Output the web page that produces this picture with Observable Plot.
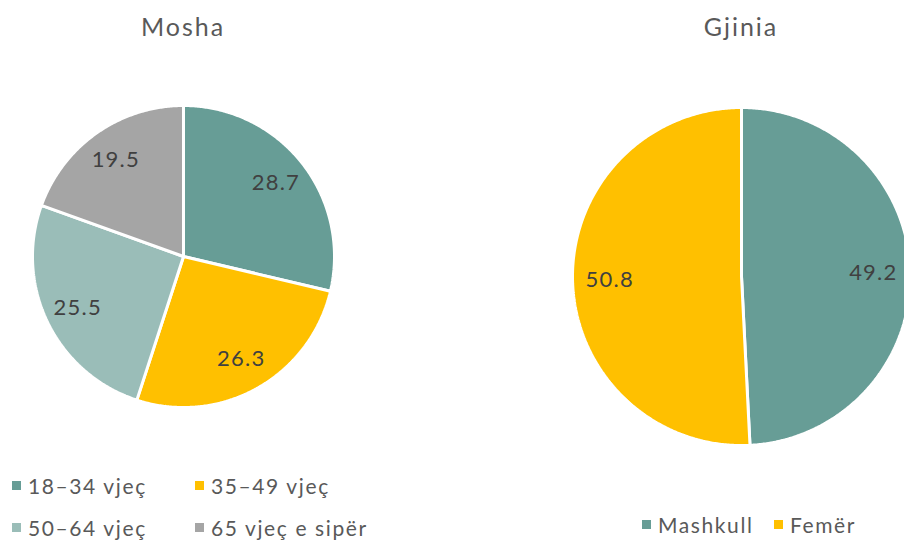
<!DOCTYPE html>
<html>
<head>
<meta charset="utf-8">
<script src="https://cdn.jsdelivr.net/npm/d3@7"></script>
<script src="https://cdn.jsdelivr.net/npm/@observablehq/plot@0.6"></script>
<style>
  html, body { margin: 0; padding: 0; background: #fff; overflow: hidden; }
  #root { position: relative; width: 904px; height: 543px; font-family: "Lato", "Noto Sans", sans-serif; color: #595959; }
  .title { position: absolute; font-size: 25px; letter-spacing: 2px; transform: translateX(-50%); white-space: nowrap; }
  .plot { position: absolute; }
  .plot text { letter-spacing: 1.2px; }
  .leg { position: absolute; font-size: 21px; letter-spacing: 1.6px; white-space: nowrap; display: flex; align-items: center; }
  .leg i { display: inline-block; width: 9px; height: 9px; margin-right: 7px; }
</style>
</head>
<body>
<div id="root"></div>
<script>
// ---- data ----
const ageCategories = ["18–34 vjeç", "35–49 vjeç", "50–64 vjeç", "65 vjeç e sipër"];
const ageValues = [28.7, 26.3, 25.5, 19.5];
const ageColors = ["#679D96", "#FFC000", "#9ABDB8", "#A5A5A5"];

const genderCategories = ["Mashkull", "Femër"];
const genderValues = [49.2, 50.8];
const genderColors = ["#679D96", "#FFC000"];

const titles = ["Mosha", "Gjinia"];

// ---- helpers ----
function pieData(cats, vals, R) {
  const total = d3.sum(vals);
  const pts = [], labels = [];
  let acc = 0;
  cats.forEach((c, i) => {
    const a0 = acc / total * 2 * Math.PI;
    acc += vals[i];
    const a1 = acc / total * 2 * Math.PI;
    pts.push({cat: c, x: 0, y: 0});
    const n = Math.max(2, Math.ceil((a1 - a0) / (Math.PI / 360)));
    for (let k = 0; k <= n; k++) {
      const a = a0 + (a1 - a0) * k / n;
      pts.push({cat: c, x: R * Math.sin(a), y: R * Math.cos(a)});
    }
    pts.push({cat: c, x: 0, y: 0});
    const am = (a0 + a1) / 2;
    labels.push({cat: c, value: vals[i], x: 0.78 * R * Math.sin(am), y: 0.78 * R * Math.cos(am)});
  });
  return {pts, labels};
}

function piePlot(cats, vals, colors, R, width, height, xdom, ydom) {
  const {pts, labels} = pieData(cats, vals, R);
  return Plot.plot({
    width, height,
    margin: 0,
    x: {axis: null, domain: xdom},
    y: {axis: null, domain: ydom},
    color: {domain: cats, range: colors},
    style: {background: "transparent", overflow: "hidden"},
    marks: [
      Plot.line(pts, {x: "x", y: "y", z: "cat", fill: "cat", stroke: "white", strokeWidth: 3, strokeLinejoin: "miter", curve: "linear"}),
      Plot.text(labels, {x: "x", y: "y", text: d => d.value.toFixed(1), fill: "#404040", fontSize: 22, fontFamily: "Lato, 'Noto Sans', sans-serif"})
    ]
  });
}

const root = document.getElementById("root");

function addTitle(text, cx, top) {
  const d = document.createElement("div");
  d.className = "title"; d.textContent = text;
  d.style.left = cx + "px"; d.style.top = top + "px";
  root.appendChild(d);
}
function addLegend(text, color, left, top) {
  const d = document.createElement("div");
  d.className = "leg";
  d.style.left = left + "px"; d.style.top = top + "px";
  const sw = document.createElement("i"); sw.style.background = color;
  d.appendChild(sw);
  d.appendChild(document.createTextNode(text));
  root.appendChild(d);
}

addTitle(titles[0], 183, 11);
addTitle(titles[1], 741, 11);

const p1 = piePlot(ageCategories, ageValues, ageColors, 151, 330, 330, [-165, 165], [-165, 165]);
p1.classList.add("plot"); p1.style.left = "18px"; p1.style.top = "91px";
root.appendChild(p1);

const p2 = piePlot(genderCategories, genderValues, genderColors, 169, 343, 360, [-180, 163], [-180, 180]);
p2.classList.add("plot"); p2.style.left = "561px"; p2.style.top = "96px";
root.appendChild(p2);

// legends
addLegend(ageCategories[0], ageColors[0], 12, 473);
addLegend(ageCategories[1], ageColors[1], 195, 473);
addLegend(ageCategories[2], ageColors[2], 12, 515);
addLegend(ageCategories[3], ageColors[3], 195, 515);
addLegend(genderCategories[0], genderColors[0], 642, 512);
addLegend(genderCategories[1], genderColors[1], 774, 512);
</script>
</body>
</html>
